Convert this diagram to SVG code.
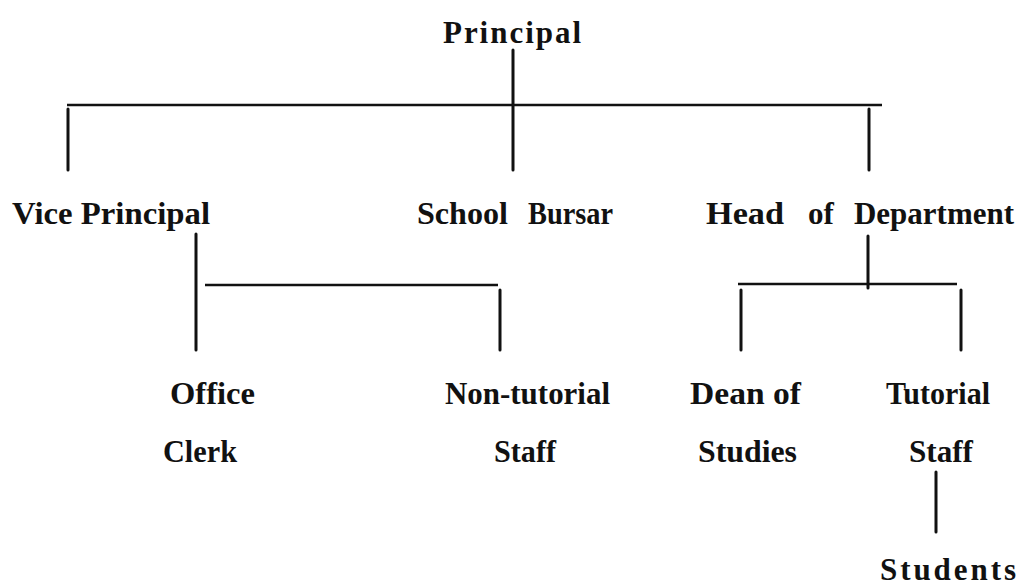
<svg xmlns="http://www.w3.org/2000/svg" width="1024" height="587" viewBox="0 0 1024 587">
<style>
.t{font-family:"Liberation Serif","Times New Roman",serif;font-weight:bold;font-size:31px;fill:#111}
.v{stroke:#111;stroke-width:3;stroke-linecap:round;fill:none}
.h{stroke:#111;stroke-width:2.5;stroke-linecap:butt;fill:none}
</style>
<rect width="1024" height="587" fill="#fff"/>
<g id="connectors">
<line class="v" x1="513" y1="50" x2="513" y2="170"/>
<line class="h" x1="67" y1="105" x2="882" y2="105"/>
<line class="v" x1="68" y1="109" x2="68" y2="170"/>
<line class="v" x1="869" y1="109" x2="869" y2="170"/>
<line class="v" x1="196" y1="234" x2="196" y2="350"/>
<line class="h" x1="205" y1="285" x2="498" y2="285"/>
<line class="v" x1="500" y1="290" x2="500" y2="350"/>
<line class="v" x1="868" y1="236" x2="868" y2="288"/>
<line class="h" x1="738" y1="284" x2="957" y2="284"/>
<line class="v" x1="741" y1="290" x2="741" y2="350"/>
<line class="v" x1="961" y1="290" x2="961" y2="350"/>
<line class="v" x1="936" y1="472" x2="936" y2="532"/>
</g>
<g id="principal"><text class="t" x="443" y="43" textLength="138" lengthAdjust="spacing">Principal</text></g>
<g id="vice-principal"><text class="t" x="12" y="224" textLength="198" lengthAdjust="spacingAndGlyphs">Vice Principal</text></g>
<g id="school-bursar"><text class="t" y="224"><tspan x="417" textLength="91" lengthAdjust="spacingAndGlyphs">School</tspan><tspan x="528" textLength="85" lengthAdjust="spacingAndGlyphs">Bursar</tspan></text></g>
<g id="head-of-department"><text class="t" y="224"><tspan x="706" textLength="78" lengthAdjust="spacingAndGlyphs">Head</tspan><tspan x="808">of</tspan><tspan x="854" textLength="160" lengthAdjust="spacingAndGlyphs">Department</tspan></text></g>
<g id="office-clerk"><text class="t" x="170" y="404" textLength="85" lengthAdjust="spacingAndGlyphs">Office</text><text class="t" x="163" y="462" textLength="74" lengthAdjust="spacingAndGlyphs">Clerk</text></g>
<g id="non-tutorial-staff"><text class="t" x="445" y="404" textLength="165" lengthAdjust="spacingAndGlyphs">Non-tutorial</text><text class="t" x="494" y="462" textLength="62" lengthAdjust="spacingAndGlyphs">Staff</text></g>
<g id="dean-of-studies"><text class="t" x="690" y="404" textLength="111" lengthAdjust="spacingAndGlyphs">Dean of</text><text class="t" x="698" y="462" textLength="99" lengthAdjust="spacingAndGlyphs">Studies</text></g>
<g id="tutorial-staff"><text class="t" x="886" y="404" textLength="104" lengthAdjust="spacingAndGlyphs">Tutorial</text><text class="t" x="909" y="462" textLength="64" lengthAdjust="spacingAndGlyphs">Staff</text></g>
<g id="students"><text class="t" x="880" y="580" textLength="136" lengthAdjust="spacing">Students</text></g>
</svg>
